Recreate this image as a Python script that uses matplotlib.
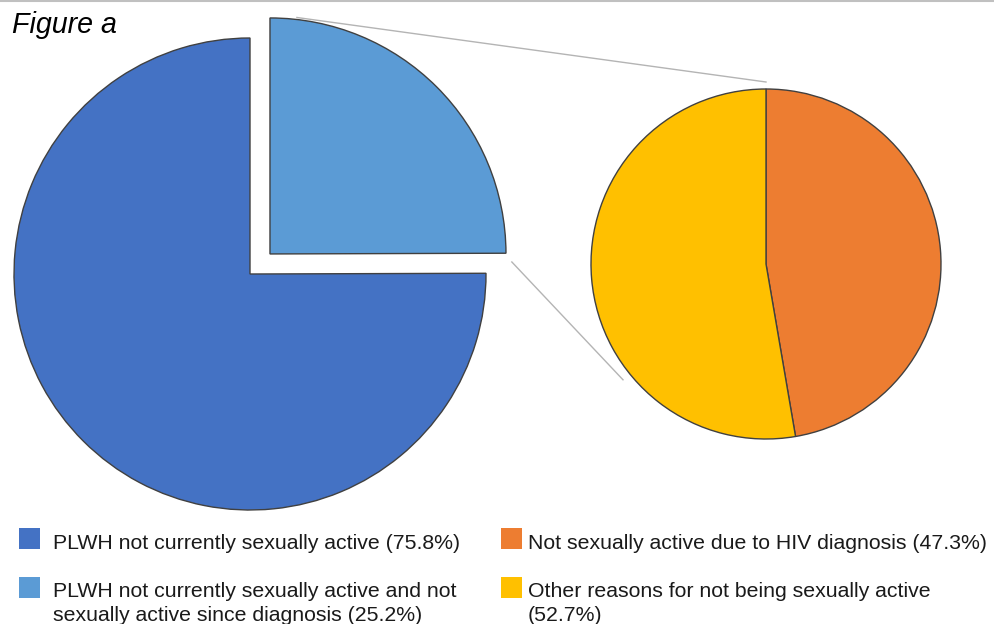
from matplotlib import pyplot as plt
from matplotlib.patches import Rectangle
import numpy as np

# data
main_labels = ['PLWH not currently sexually active (75.8%)',
               'PLWH not currently sexually active and not\nsexually active since diagnosis (25.2%)']
main_values = [75.8, 25.2]
main_colors = ['#4472C4', '#5B9BD5']

sub_labels = ['Not sexually active due to HIV diagnosis (47.3%)',
              'Other reasons for not being sexually active\n(52.7%)']
sub_values = [47.3, 52.7]
sub_colors = ['#ED7D31', '#FFC000']

plt.rcParams['font.family'] = ['Liberation Sans', 'DejaVu Sans']

W, H = 994, 624
fig = plt.figure(figsize=(W / 100, H / 100), dpi=100)
ax = fig.add_axes([0, 0, 1, 1])
ax.set_xlim(0, W); ax.set_ylim(0, H)
ax.set_aspect('equal')
ax.axis('off')

# big pie (pixel coords, y up); explode is in data units here
big_c, big_r = (250, 350), 236
wedges, _ = ax.pie(main_values, colors=main_colors, startangle=90,
                   explode=[0, 28.3], center=big_c, radius=big_r,
                   wedgeprops=dict(edgecolor='#404040', linewidth=1))

# small pie
sm_c, sm_r = (766, 360), 175
ax.pie(sub_values, colors=sub_colors, startangle=90, counterclock=False,
       center=sm_c, radius=sm_r,
       wedgeprops=dict(edgecolor='#404040', linewidth=1))

ax.set_xlim(0, W); ax.set_ylim(0, H)

# connector lines
def polar(c, r, a):
    return c[0] + r * np.cos(np.radians(a)), c[1] + r * np.sin(np.radians(a))

ec = wedges[1].center
p1 = polar(ec, big_r + 2, 83.5); q1 = polar(sm_c, sm_r + 7, 90)
p2 = polar(ec, big_r + 6, -1.9); q2 = polar(sm_c, sm_r + 9, 219)
for p, q in [(p1, q1), (p2, q2)]:
    ax.plot([p[0], q[0]], [p[1], q[1]], color='#b4b4b4', lw=1)

# top border
ax.axhline(H - 1, color='#c0c0c0', lw=1.5)

ax.text(12, H - 25, 'Figure a', fontsize=20.6, style='italic', va='center')

# legend
cols = [(19, 53, main_labels, main_colors), (501, 528, sub_labels, sub_colors)]
box_y = [75, 26]
text_top = [90, 42]
for sx, tx, labs, cs in cols:
    for lab, c, by, ty in zip(labs, cs, box_y, text_top):
        ax.add_patch(Rectangle((sx, by), 21, 21, facecolor=c, edgecolor='none'))
        ax.text(tx, ty, lab, fontsize=15.3, va='top', ha='left',
                linespacing=1.35, color='#1a1a1a')

fig.savefig('out.png', dpi=100)
